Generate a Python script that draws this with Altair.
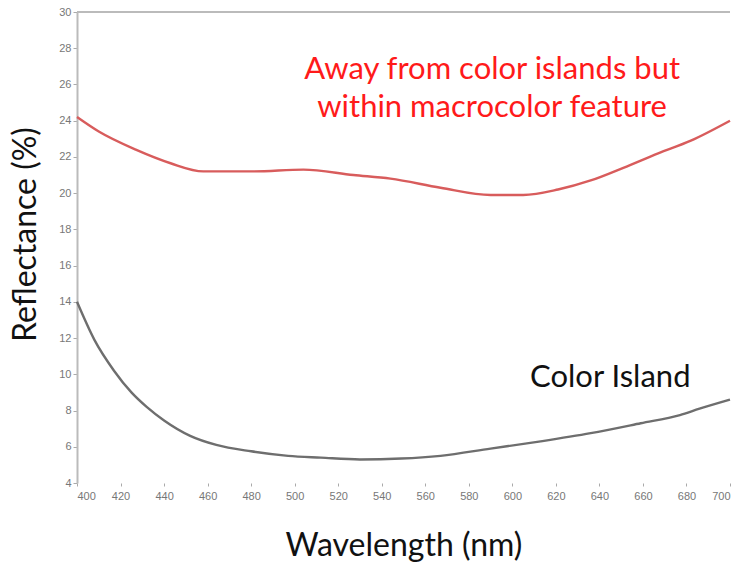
import altair as alt
import pandas as pd

# Reflectance spectra (wavelength in nm, reflectance in %)
wl_away = [400, 410, 427, 443, 458, 481, 504, 527, 544, 567, 590, 605, 621, 636, 651, 667, 682, 700]
refl_away = [24.2, 23.4, 22.4, 21.65, 21.2, 21.2, 21.3, 21.0, 20.8, 20.3, 19.9, 19.9, 20.2, 20.7, 21.4, 22.2, 22.9, 24.0]

wl_island = [400, 408, 417, 425, 432, 440, 452, 464, 480, 497, 512, 530, 549, 567, 590, 613, 636, 659, 677, 686, 700]
refl_island = [14.0, 11.9, 10.2, 9.0, 8.2, 7.45, 6.6, 6.1, 5.75, 5.5, 5.4, 5.3, 5.35, 5.5, 5.9, 6.3, 6.75, 7.3, 7.75, 8.1, 8.6]

series_names = ["Away from color islands but within macrocolor feature", "Color Island"]
series_colors = ["#d85c5c", "#6e6e6e"]

x_ticks = list(range(400, 701, 20))
y_ticks = list(range(4, 31, 2))

away = pd.DataFrame({"wl": wl_away, "r": refl_away, "s": series_names[0]})
island = pd.DataFrame({"wl": wl_island, "r": refl_island, "s": series_names[1]})
spectra = pd.concat([away, island])

x_scale = alt.Scale(domain=[400, 700], nice=False, zero=False)
y_scale = alt.Scale(domain=[4, 30], nice=False, zero=False)

font = "Lato"
tick_font = "Liberation Sans"

x_axis = alt.Axis(values=x_ticks, domain=False, grid=False, tickSize=3,
                  tickColor="#aaaaaa", labelColor="#777777", labelFontSize=11,
                  labelFont=tick_font, labelPadding=4, labelOverlap=False,
                  titleFontSize=32, titleFontWeight="normal", titleFont=font,
                  titleColor="#111111", titleBaseline="middle", titleY=62)
y_axis = alt.Axis(values=y_ticks, domain=True, domainColor="#bbbbbb", domainWidth=2,
                  grid=False, tickSize=4, tickColor="#aaaaaa", labelColor="#777777",
                  labelFontSize=11, labelFont=tick_font, labelPadding=2,
                  labelOverlap=False, titleFontSize=32, titleFontWeight="normal",
                  titleFont=font, titleColor="#111111", titleBaseline="middle",
                  titleAlign="center", titleX=-52, titleY=222)

x_title = "Wavelength (nm)"
y_title = "Reflectance (%)"

lines = alt.Chart(spectra).mark_line(strokeWidth=2.4, interpolate="monotone").encode(
    x=alt.X("wl:Q", scale=x_scale, title=x_title, axis=x_axis),
    y=alt.Y("r:Q", scale=y_scale, title=y_title, axis=y_axis),
    color=alt.Color("s:N", scale=alt.Scale(domain=series_names, range=series_colors), legend=None),
    detail="s:N",
)

# Top frame line at the axis maximum
top = alt.Chart(pd.DataFrame({"r": [30]})).mark_rule(color="#bbbbbb", strokeWidth=2).encode(
    y=alt.Y("r:Q", scale=y_scale, title=y_title, axis=y_axis)
)

labels = pd.DataFrame({
    "wl": [590.7, 590.7, 645],
    "r": [26.8, 24.7, 9.8],
    "t": ["Away from color islands but", "within macrocolor feature", "Color Island"],
    "c": ["#ff1a1a", "#ff1a1a", "#111111"],
})
text = alt.Chart(labels).mark_text(font=font, fontSize=31, baseline="middle", align="center").encode(
    x=alt.X("wl:Q", scale=x_scale, title=x_title, axis=x_axis),
    y=alt.Y("r:Q", scale=y_scale, title=y_title, axis=y_axis),
    text="t:N",
    color=alt.Color("c:N", scale=None),
)

chart = alt.layer(lines, top, text).properties(
    width=653, height=471,
    autosize=alt.AutoSizeParams(type="none"),
    padding={"left": 77, "top": 12, "right": 7, "bottom": 81},
).configure_view(stroke=None)

chart.save("out.html", embed_options={"renderer": "svg", "actions": False})
